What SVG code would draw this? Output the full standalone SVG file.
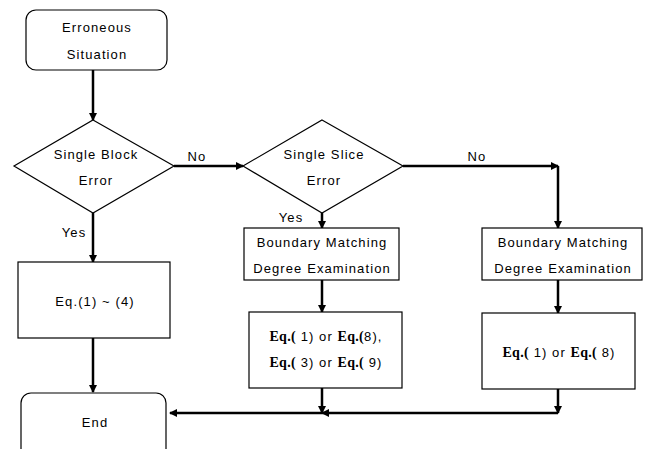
<svg xmlns="http://www.w3.org/2000/svg" width="646" height="449" viewBox="0 0 646 449">
<style>
.shape{fill:#fff;stroke:#000;stroke-width:1.2}
.t{font-family:"Liberation Sans",Arial,sans-serif;font-size:13px;letter-spacing:1.1px;fill:#000;text-anchor:middle}
.b{font-family:"Liberation Serif","Times New Roman",serif;font-weight:bold;font-size:14px;letter-spacing:0.3px}
.c{fill:none;stroke:#000;stroke-width:2.5}
</style>
<defs>
<marker id="ah" markerWidth="8" markerHeight="8" refX="7" refY="4" orient="auto" markerUnits="userSpaceOnUse">
<path d="M0,0 L8,4 L0,8 Z" fill="#000"/>
</marker>
</defs>
<rect width="646" height="449" fill="#fff"/>
<g id="connectors">
<path class="c" d="M93,70 V120" marker-end="url(#ah)"/>
<path class="c" d="M174,166 H243" marker-end="url(#ah)"/>
<path class="c" d="M403,166 H558" marker-end="url(#ah)"/>
<path class="c" d="M558,166 V228" marker-end="url(#ah)"/>
<path class="c" d="M322,213 V228" marker-end="url(#ah)"/>
<path class="c" d="M93,213 V262" marker-end="url(#ah)"/>
<path class="c" d="M93,338 V392" marker-end="url(#ah)"/>
<path class="c" d="M322,280 V312" marker-end="url(#ah)"/>
<path class="c" d="M558,280 V313" marker-end="url(#ah)"/>
<path class="c" d="M322,388 V413" marker-end="url(#ah)"/>
<path class="c" d="M558,389 V413" marker-end="url(#ah)"/>
<path class="c" d="M558,413 H322" marker-end="url(#ah)"/>
<path class="c" d="M322,413 H170" marker-end="url(#ah)"/>
<text class="t" x="197" y="161">No</text>
<text class="t" x="477" y="161">No</text>
<text class="t" x="74" y="237">Yes</text>
<text class="t" x="291" y="222">Yes</text>
</g>
<g id="start">
<rect class="shape" x="26" y="10" width="141" height="60" rx="10"/>
<text class="t" x="97" y="32">Erroneous</text>
<text class="t" x="97" y="59">Situation</text>
</g>
<g id="d1">
<polygon class="shape" points="93,120 174,166 93,213 14,166"/>
<text class="t" x="96" y="159">Single Block</text>
<text class="t" x="96" y="185">Error</text>
</g>
<g id="d2">
<polygon class="shape" points="322,120 403,166 322,213 243,166"/>
<text class="t" x="324" y="159">Single Slice</text>
<text class="t" x="324" y="185">Error</text>
</g>
<g id="eq1">
<rect class="shape" x="18" y="262" width="152" height="76"/>
<text class="t" x="95" y="306">Eq.(1) ~ (4)</text>
</g>
<g id="bm1">
<rect class="shape" x="244" y="228" width="155" height="52"/>
<text class="t" x="322" y="247">Boundary Matching</text>
<text class="t" x="322" y="273">Degree Examination</text>
</g>
<g id="bm2">
<rect class="shape" x="482" y="228" width="160" height="52"/>
<text class="t" x="563" y="247">Boundary Matching</text>
<text class="t" x="563" y="273">Degree Examination</text>
</g>
<g id="eq2">
<rect class="shape" x="249" y="312" width="153" height="76"/>
<text class="t" x="326" y="341"><tspan class="b">Eq.(</tspan> 1) or <tspan class="b">Eq.(</tspan>8),</text>
<text class="t" x="326" y="367"><tspan class="b">Eq.(</tspan> 3) or <tspan class="b">Eq.(</tspan> 9)</text>
</g>
<g id="eq3">
<rect class="shape" x="482" y="313" width="153" height="76"/>
<text class="t" x="559" y="357"><tspan class="b">Eq.(</tspan> 1) or <tspan class="b">Eq.(</tspan> 8)</text>
</g>
<g id="end">
<rect class="shape" x="21" y="393" width="145" height="70" rx="10"/>
<text class="t" x="95" y="427">End</text>
</g>
</svg>
